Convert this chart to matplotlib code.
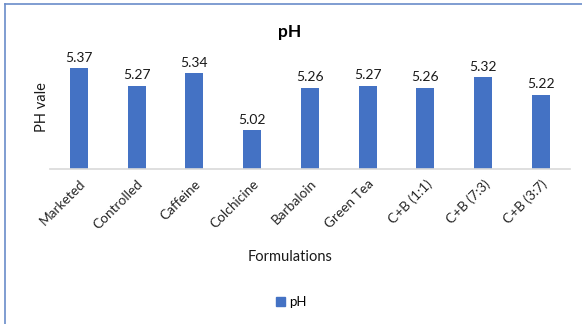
import matplotlib.pyplot as plt
from matplotlib.lines import Line2D
from matplotlib.patches import Patch

formulations = ["Marketed", "Controlled", "Caffeine", "Colchicine", "Barbaloin",
                "Green Tea", "C+B (1:1)", "C+B (7:3)", "C+B (3:7)"]
ph_values = [5.37, 5.27, 5.34, 5.02, 5.26, 5.27, 5.26, 5.32, 5.22]

blue = "#4472C4"
plt.rcParams['font.family'] = ['Lato', 'DejaVu Sans']

fig = plt.figure(figsize=(5.82, 3.24), dpi=100)
ax = fig.add_axes([0.086, 0.478, 0.893, 0.383])

x = range(len(formulations))
bars = ax.bar(x, ph_values, width=0.31, color=blue, zorder=2)
for b, v in zip(bars, ph_values):
    ax.text(b.get_x() + b.get_width() / 2, v + 0.025, f"{v:.2f}",
            ha="center", va="bottom", fontsize=10, color="#1a1a1a")

ax.set_ylim(4.8, 5.5)
ax.set_xlim(-0.5, len(formulations) - 0.5)
ax.set_yticks([])
ax.set_xticks(list(x))
ax.set_xticklabels(formulations, rotation=45, ha="right", rotation_mode="anchor",
                   fontsize=9.8, color="#262626")
ax.tick_params(axis="x", length=0, pad=6)
for s in ["left", "right", "top"]:
    ax.spines[s].set_visible(False)
ax.spines["bottom"].set_color("#d9d9d9")
ax.spines["bottom"].set_linewidth(1.2)

ax.set_ylabel("PH vale", fontsize=10.5, color="#1a1a1a", labelpad=1)
fig.text(0.498, 0.90, "pH", ha="center", va="center", fontsize=12.5, fontweight="bold")
fig.text(0.498, 0.207, "Formulations", ha="center", va="center", fontsize=10.5, color="#1a1a1a")

fig.legend(handles=[Patch(color=blue, label="pH")], loc="center",
           bbox_to_anchor=(0.5, 0.068), frameon=False, fontsize=9.5,
           handlelength=0.7, handleheight=0.7, handletextpad=0.3)

# frame around the chart area
fig.add_artist(Line2D([0.009, 0.009], [0, 0.988], color="#6a8cc9", lw=1.2))
fig.add_artist(Line2D([0.009, 1.0], [0.988, 0.988], color="#6a8cc9", lw=1.2))

fig.savefig("out.png", dpi=100)
